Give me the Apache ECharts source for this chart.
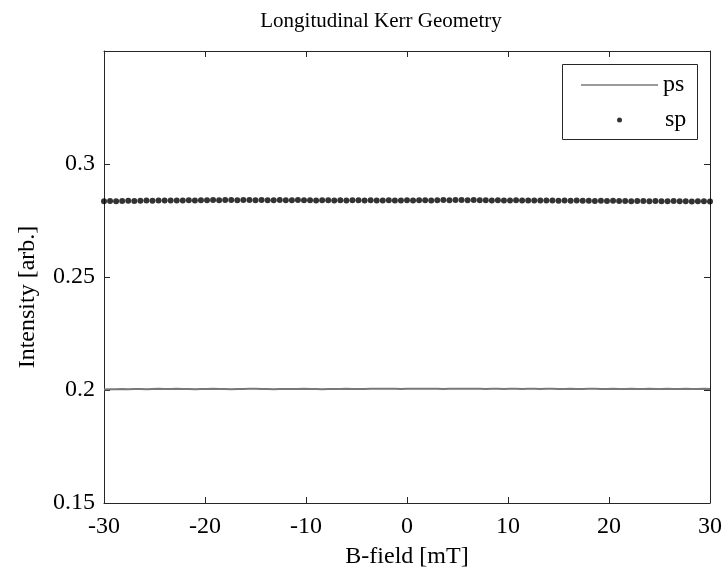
<!DOCTYPE html>
<html>
<head>
<meta charset="utf-8">
<script src="https://cdn.jsdelivr.net/npm/echarts@6/dist/echarts.min.js"></script>
<style>html,body{margin:0;padding:0;background:#fff}#c{width:725px;height:576px}</style>
</head>
<body>
<div id="c"></div>
<script>
var titleText = 'Longitudinal Kerr Geometry';
var xName = 'B-field [mT]';
var yName = 'Intensity [arb.]';
var seriesNames = ['ps', 'sp'];
var xTicks = [-30, -20, -10, 0, 10, 20, 30];
var yTicks = [0.15, 0.2, 0.25, 0.3];

var bField = [
-30,-29.4,-28.8,-28.2,-27.6,-27,-26.4,-25.8,-25.2,-24.6,-24,
-23.4,-22.8,-22.2,-21.6,-21,-20.4,-19.8,-19.2,-18.6,-18,-17.4,-16.8,-16.2,-15.6,-15,-14.4,-13.8,-13.2,-12.6,-12,
-11.4,-10.8,-10.2,-9.6,-9,-8.4,-7.8,-7.2,-6.6,-6,-5.4,-4.8,-4.2,-3.6,-3,-2.4,-1.8,-1.2,-0.6,0,
0.6,1.2,1.8,2.4,3,3.6,4.2,4.8,5.4,6,6.6,7.2,7.8,8.4,9,9.6,10.2,10.8,11.4,12,
12.6,13.2,13.8,14.4,15,15.6,16.2,16.8,17.4,18,18.6,19.2,19.8,20.4,21,21.6,22.2,22.8,23.4,24,
24.6,25.2,25.8,26.4,27,27.6,28.2,28.8,29.4,30
];

var spValues = [
0.2835,0.2836,0.2835,0.2836,0.2837,0.2836,0.2837,0.2838,0.2837,0.2838,0.2838,
0.2839,0.2838,0.2839,0.2840,0.2839,0.2840,0.2840,0.2841,0.2840,0.2841,0.2841,0.2840,0.2841,0.2841,0.2840,0.2841,0.2840,0.2840,0.2841,0.2840,
0.2840,0.2841,0.2840,0.2840,0.2839,0.2840,0.2840,0.2839,0.2840,0.2839,0.2840,0.2840,0.2839,0.2840,0.2839,0.2839,0.2840,0.2839,0.2839,0.2840,
0.2839,0.2840,0.2840,0.2839,0.2840,0.2841,0.2840,0.2841,0.2841,0.2840,0.2841,0.2840,0.2840,0.2839,0.2840,0.2839,0.2839,0.2840,0.2839,0.2839,
0.2838,0.2839,0.2838,0.2838,0.2837,0.2838,0.2837,0.2838,0.2837,0.2837,0.2836,0.2837,0.2836,0.2837,0.2836,0.2836,0.2835,0.2836,0.2836,0.2835,
0.2836,0.2835,0.2835,0.2836,0.2835,0.2835,0.2834,0.2835,0.2835,0.2834
];

var psValues = [
0.2002,0.2003,0.2003,0.2004,0.2003,0.2004,0.2004,0.2003,0.2004,0.2005,0.2004,
0.2004,0.2005,0.2004,0.2004,0.2003,0.2004,0.2004,0.2005,0.2004,0.2004,0.2003,0.2004,0.2004,0.2005,0.2005,0.2004,0.2004,0.2003,0.2004,0.2004,
0.2004,0.2004,0.2005,0.2004,0.2004,0.2003,0.2004,0.2004,0.2004,0.2005,0.2004,0.2004,0.2004,0.2005,0.2005,0.2006,0.2005,0.2005,0.2004,0.2005,
0.2005,0.2005,0.2006,0.2005,0.2005,0.2004,0.2005,0.2005,0.2006,0.2006,0.2005,0.2005,0.2004,0.2005,0.2005,0.2004,0.2005,0.2005,0.2004,0.2005,
0.2005,0.2004,0.2005,0.2005,0.2004,0.2004,0.2005,0.2004,0.2004,0.2005,0.2005,0.2004,0.2004,0.2005,0.2004,0.2004,0.2005,0.2004,0.2004,0.2005,
0.2004,0.2004,0.2005,0.2004,0.2004,0.2005,0.2004,0.2004,0.2005,0.2004
];

function pairs(xs, ys) { return xs.map(function (x, i) { return [x, ys[i]]; }); }

var FONT = '"Liberation Serif", "Times New Roman", serif';
var AX = '#262626';

var chart = echarts.init(document.getElementById('c'), null, { renderer: 'canvas' });

var axisCommon = {
  axisLine: { show: true, onZero: false, lineStyle: { color: AX, width: 1 } },
  axisTick: { show: true, inside: true, length: 6, lineStyle: { color: AX, width: 1 } },
  splitLine: { show: false }
};

chart.setOption({
  animation: false,
  backgroundColor: '#fff',
  title: {
    text: titleText,
    left: 376, top: 6, textAlign: 'center',
    textStyle: { fontFamily: FONT, fontSize: 21, fontWeight: 'normal', color: '#000' }
  },
  grid: { left: 104, right: 14, top: 51, bottom: 73, containLabel: false },
  graphic: [{
    type: 'rect', left: 562, top: 64, z: 10,
    shape: { width: 135, height: 75 },
    style: { fill: '#fff', stroke: AX, lineWidth: 1 }
  }],
  legend: [
    { data: [{ name: seriesNames[0], icon: 'path://M0 0H77V1.5H0Z' }], left: 576, top: 68, itemWidth: 77, itemHeight: 14, z: 20,
      textStyle: { fontFamily: FONT, fontSize: 24, color: '#000' } },
    { data: [{ name: seriesNames[1], icon: 'circle' }], left: 612, top: 103, itemWidth: 5, itemHeight: 5, z: 20,
      textStyle: { fontFamily: FONT, fontSize: 24, color: '#000', padding: [0, 0, 0, 38] } }
  ],
  xAxis: [
    Object.assign({}, axisCommon, {
      type: 'value', min: xTicks[0], max: xTicks[xTicks.length - 1], interval: 10, position: 'bottom',
      name: xName, nameLocation: 'middle', nameGap: 42,
      nameTextStyle: { fontFamily: FONT, fontSize: 24, color: '#000' },
      axisLabel: { show: true, margin: 12, fontFamily: FONT, fontSize: 24, color: '#000',
        formatter: function (v) { return String(v); } }
    }),
    Object.assign({}, axisCommon, {
      type: 'value', min: xTicks[0], max: xTicks[xTicks.length - 1], interval: 10, position: 'top',
      axisLabel: { show: false }
    })
  ],
  yAxis: [
    Object.assign({}, axisCommon, {
      type: 'value', min: 0.15, max: 0.35, interval: 0.05, position: 'left',
      name: yName, nameLocation: 'middle', nameGap: 64, nameRotate: 90,
      nameTextStyle: { fontFamily: FONT, fontSize: 24, color: '#000', padding: [0, 40, 0, 0] },
      axisLabel: { show: true, margin: 9, fontFamily: FONT, fontSize: 24, color: '#000',
        formatter: function (v) {
          var r = Math.round(v * 100) / 100;
          return yTicks.indexOf(r) >= 0 ? String(r) : '';
        } }
    }),
    Object.assign({}, axisCommon, {
      type: 'value', min: 0.15, max: 0.35, interval: 0.05, position: 'right',
      axisLabel: { show: false }
    })
  ],
  series: [
    { name: seriesNames[0], type: 'line', data: pairs(bField, psValues), showSymbol: false, symbol: 'none',
      color: '#787878', lineStyle: { color: '#787878', width: 2 }, z: 3 },
    { name: seriesNames[1], type: 'scatter', data: pairs(bField, spValues), symbol: 'circle', symbolSize: 6,
      color: '#000', itemStyle: { color: '#000' }, z: 4 }
  ]
});
</script>
</body>
</html>
